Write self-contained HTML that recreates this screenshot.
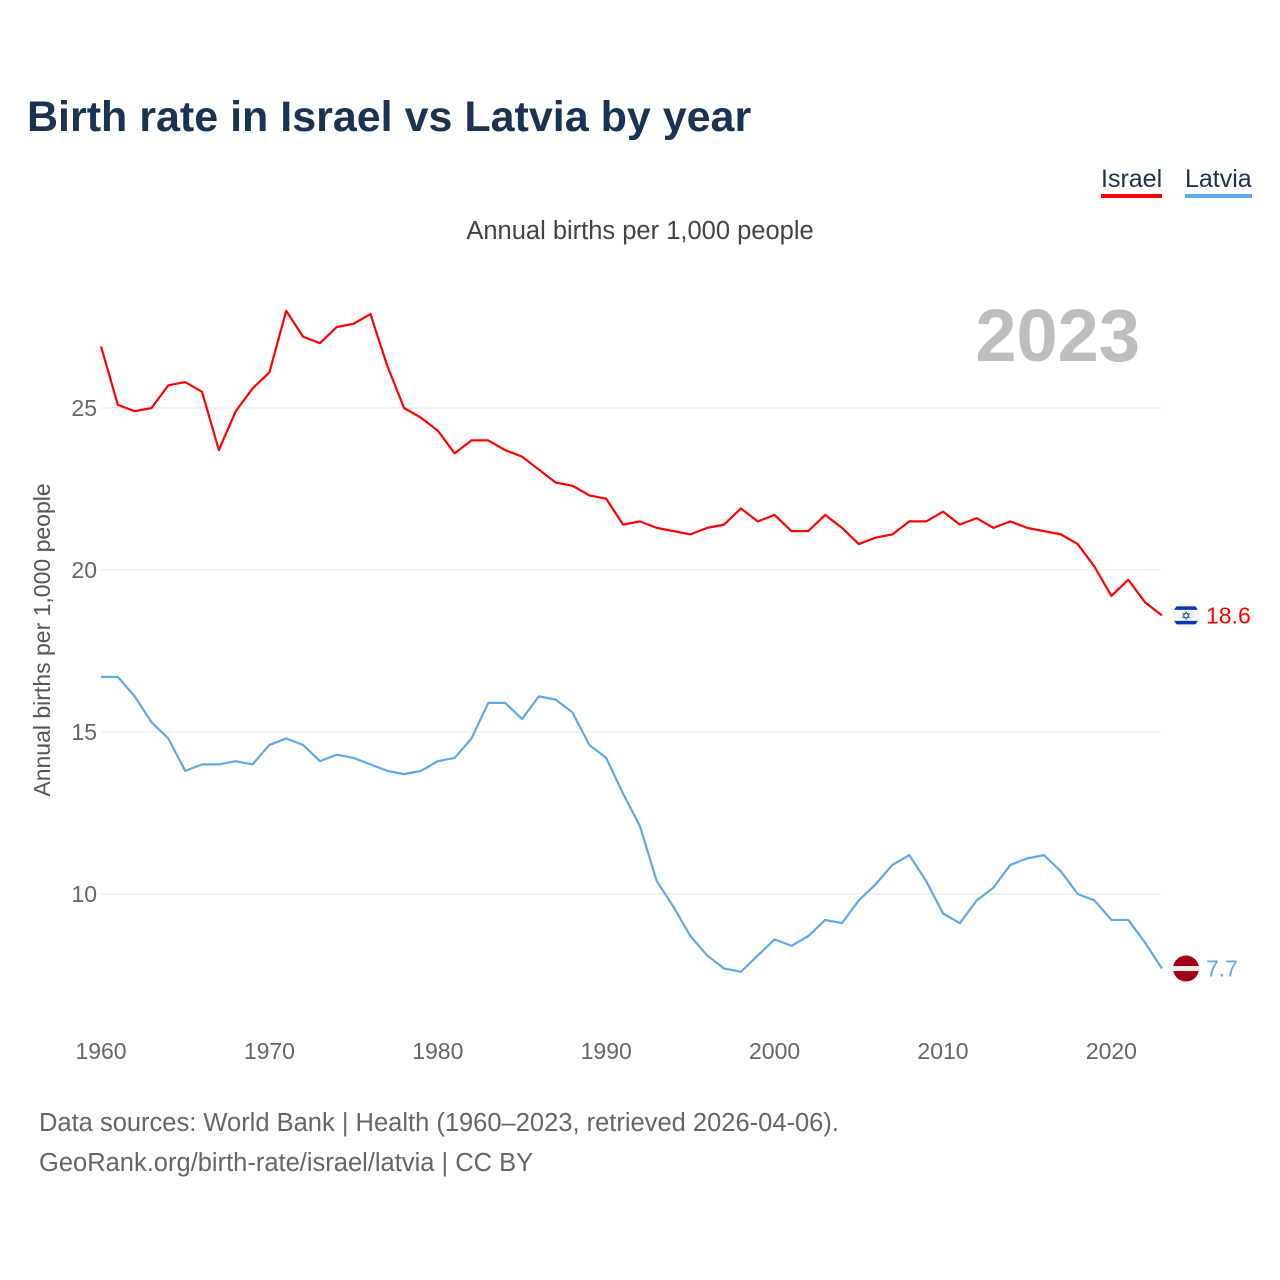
<!DOCTYPE html>
<html><head><meta charset="utf-8"><style>
body{margin:0;background:#fff;font-family:"Liberation Sans",sans-serif;}
#wrap{position:relative;width:1280px;height:1280px;overflow:hidden;}
.t{position:absolute;white-space:nowrap;}
</style></head><body>
<div id="wrap">
<div class="t" style="left:27px;top:93px;font-size:43px;font-weight:bold;color:#1b3352;">Birth rate in Israel vs Latvia by year</div>
<div class="t" style="left:1101px;top:164px;font-size:25px;color:#1b3352;border-bottom:4px solid #ff0000;line-height:30px;">Israel</div>
<div class="t" style="left:1185px;top:164px;font-size:25px;color:#1b3352;border-bottom:4px solid #5ea8ee;line-height:30px;">Latvia</div>
<div class="t" style="left:0;width:1280px;text-align:center;top:217px;font-size:25.5px;color:#444;">Annual births per 1,000 people</div>
<div class="t" style="left:39px;top:1103px;font-size:25.5px;color:#666;line-height:40px;">Data sources: World Bank | Health (1960–2023, retrieved 2026-04-06).<br>GeoRank.org/birth-rate/israel/latvia | CC BY</div>
<svg id="chart" width="1280" height="1280" style="position:absolute;left:0;top:0">
<defs><clipPath id="ilc"><circle id="ilcc" cx="1186" cy="0" r="13"/></clipPath></defs>
<text x="1140" y="361" text-anchor="end" font-size="74" font-weight="bold" fill="#bdbdbd" font-family="Liberation Sans">2023</text>
<text transform="translate(50,640) rotate(-90)" text-anchor="middle" font-size="23" fill="#555" font-family="Liberation Sans">Annual births per 1,000 people</text>
</svg>
</div>
<script>
const years=[];for(let y=1960;y<=2023;y++)years.push(y);
const israel=[26.9,25.1,24.9,25.0,25.7,25.8,25.5,23.7,24.9,25.6,26.1,28.0,27.2,27.0,27.5,27.6,27.9,26.3,25.0,24.7,24.3,23.6,24.0,24.0,23.7,23.5,23.1,22.7,22.6,22.3,22.2,21.4,21.5,21.3,21.2,21.1,21.3,21.4,21.9,21.5,21.7,21.2,21.2,21.7,21.3,20.8,21.0,21.1,21.5,21.5,21.8,21.4,21.6,21.3,21.5,21.3,21.2,21.1,20.8,20.1,19.2,19.7,19.0,18.6];
const latvia=[16.7,16.7,16.1,15.3,14.8,13.8,14.0,14.0,14.1,14.0,14.6,14.8,14.6,14.1,14.3,14.2,14.0,13.8,13.7,13.8,14.1,14.2,14.8,15.9,15.9,15.4,16.1,16.0,15.6,14.6,14.2,13.1,12.1,10.4,9.6,8.7,8.1,7.7,7.6,8.1,8.6,8.4,8.7,9.2,9.1,9.8,10.3,10.9,11.2,10.4,9.4,9.1,9.8,10.2,10.9,11.1,11.2,10.7,10.0,9.8,9.2,9.2,8.5,7.7];
const yTicks=[10,15,20,25];
const xTicks=[1960,1970,1980,1990,2000,2010,2020];
const NS="http://www.w3.org/2000/svg";
const svg=document.getElementById('chart');
const xS=y=>101+(y-1960)*16.84;
const yS=v=>408+(25-v)*32.4;
function mk(tag,at,parent){const e=document.createElementNS(NS,tag);for(const k in at)e.setAttribute(k,at[k]);(parent||svg).appendChild(e);return e;}
yTicks.forEach(t=>{
 const l=mk('line',{x1:101,x2:1161,y1:yS(t),y2:yS(t),stroke:'#e6e6e6','stroke-width':1});
 
 
 const tx=mk('text',{x:97,y:yS(t)+8,'text-anchor':'end','font-size':23,fill:'#666','font-family':'Liberation Sans'});
 tx.textContent=t;
 
 
});
xTicks.forEach(t=>{
 const tx=mk('text',{x:xS(t),y:1059,'text-anchor':'middle','font-size':23,fill:'#666','font-family':'Liberation Sans'});
 tx.textContent=t;
 
 
});
function line(vals,col,name){
 const p=mk('polyline',{points:vals.map((v,i)=>xS(years[i])+','+yS(v)).join(' '),fill:'none',stroke:col,'stroke-width':2.2,'stroke-linejoin':'round'});
 
 
}
line(israel,'#ff0000','israel-line');
line(latvia,'#5ea8ee','latvia-line');
const iv=israel[israel.length-1], lv=latvia[latvia.length-1];
const cx=1186;
document.getElementById('ilcc').setAttribute('cy',yS(iv));
const ig=mk('g',{'clip-path':'url(#ilc)'});


mk('circle',{cx:cx,cy:yS(iv),r:13,fill:'#f4f4f4'},ig);
mk('rect',{x:cx-13,y:yS(iv)-9,width:26,height:3.5,fill:'#0038b8'},ig);
mk('rect',{x:cx-13,y:yS(iv)+5.5,width:26,height:3.5,fill:'#0038b8'},ig);
const st=mk('text',{x:cx,y:yS(iv)+4.5,'text-anchor':'middle','font-size':12,fill:'#0038b8'},ig);st.textContent='✡';
const it=mk('text',{x:1206,y:yS(iv)+8,'font-size':23,fill:'#ff0000','font-family':'Liberation Sans'});
it.textContent=iv.toFixed(1);


const lg=mk('g',{});


mk('circle',{cx:cx,cy:yS(lv),r:13,fill:'#9e0018'},lg);
mk('rect',{x:cx-13,y:yS(lv)-2.5,width:26,height:5,fill:'#eeeeee'},lg);
const lt=mk('text',{x:1206,y:yS(lv)+8,'font-size':23,fill:'#5ea8ee','font-family':'Liberation Sans'});
lt.textContent=lv.toFixed(1);


</script>
</body></html>
